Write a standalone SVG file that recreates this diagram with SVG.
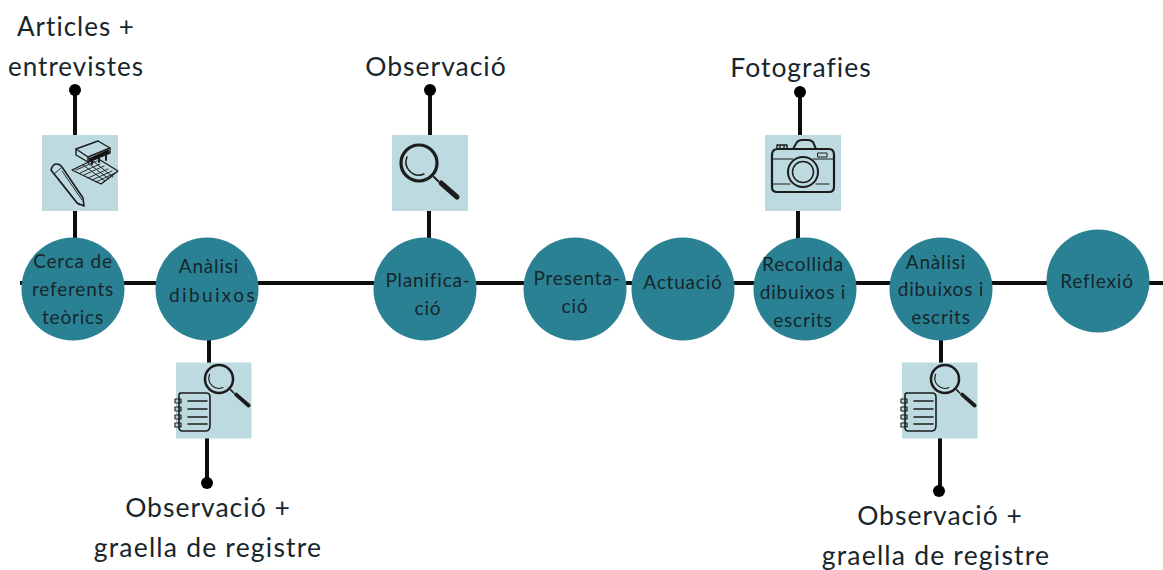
<svg xmlns="http://www.w3.org/2000/svg" width="1163" height="570" viewBox="0 0 1163 570">
<style>
.line{stroke:#0d0d0d;stroke-width:4;fill:none}
.dot{fill:#000}
.c{fill:#2b8194}
.sq{fill:#bcdae0}
text{font-family:"Lato","Noto Sans",sans-serif;text-anchor:middle;fill:#16262c}
.n{font-size:19px;letter-spacing:.8px}
.w{letter-spacing:2.400px}
.l{font-size:26.5px;letter-spacing:1px}
.i{fill:none;stroke:#1c1c1c;stroke-linecap:round;stroke-linejoin:round}
</style>
<defs>
<g id="mag">
<circle cx="0" cy="0" r="18" class="i" stroke-width="3.2"/>
<path d="M-12 -6A13 13 0 0 0 5 11" class="i" stroke-width="1.5"/>
<path d="M15 14L19 18" class="i" stroke-width="2"/>
<path d="M22 20L38 34" class="i" stroke-width="5"/>
</g>
<g id="note">
<path d="M-27 -15H-1Q3 -15 3 -11V17Q3 23 -1 23H-25Q-28 23 -28 19V-13Q-28 -15 -25 -15Z" class="i" stroke-width="1.6"/>
<path d="M-19 -7H0M-19 1H0M-19 9H0M-19 16H0" class="i" stroke-width="1.6"/>
<path d="M-32 -9h6v4h-6zM-32 -1h6v4h-6zM-32 7h6v4h-6zM-32 15h6v4h-6z" class="i" stroke-width="1.2"/>
</g>
</defs>

<g id="connectors">
<path class="line" d="M20 283H1163"/>
<path class="line" d="M75 90V135M75 210V240"/>
<path class="line" d="M430 90V135M429 210V240"/>
<path class="line" d="M800 92V135M798 210V240"/>
<path class="line" d="M209 338V363M207 438V483"/>
<path class="line" d="M941 338V363M940 438V491"/>
<circle class="dot" cx="75" cy="90" r="6"/>
<circle class="dot" cx="430" cy="90" r="6"/>
<circle class="dot" cx="800" cy="92" r="6"/>
<circle class="dot" cx="207" cy="483" r="6"/>
<circle class="dot" cx="939" cy="491" r="6"/>
</g>

<g id="icon-llibres">
<rect class="sq" x="42" y="135" width="76" height="76"/>
<path d="M51 170C53 162 59 163 62 167L83 198L84 206L77 203Z" class="i" stroke-width="1.6"/>
<path d="M54 174L61 168M57 177L79 205M62 171L82 200" class="i" stroke-width=".9"/>
<path d="M72 170L97 158L118 171L101 184Z" class="i" stroke-width="1.3"/>
<path d="M76 170L97 161M80 173L100 164M84 175L104 166M88 178L108 169M92 180L112 171M96 182L115 173M83 165L105 181M88 163L109 179M93 161L113 177" class="i" stroke-width=".9"/>
<path d="M76 149L98 141L110 148L88 157Z" class="i" stroke-width="1.4"/>
<path d="M76 149V155L88 162L110 153V148M88 157V162" class="i" stroke-width="1.4"/>
<path d="M89 160L109 151" stroke="#111" stroke-width="3.5" fill="none"/>
<path d="M92 160V164M99 157V162M106 154V160" class="i" stroke-width="2"/>
</g>
<g id="icon-lupa">
<rect class="sq" x="392" y="135" width="76" height="76"/>
<use href="#mag" x="419" y="163"/>
</g>
<g id="icon-camera">
<rect class="sq" x="765" y="135" width="76" height="76"/>
<g class="i" stroke-width="2">
<path d="M772 155Q772 149 778 149H829Q834 149 834 155V187Q834 192 829 192H777Q772 192 772 187Z" stroke-width="2.2"/>
<path d="M793 149L797 142Q799 140 802 140H808Q811 140 813 142L816 149"/>
<path d="M777 149V145H787V149M780 145V149M784 145V149" stroke-width="1.4"/>
<circle cx="803" cy="172" r="15"/>
<circle cx="803" cy="172" r="10.5" stroke-width="1.5"/>
<path d="M772 159H793M813 159H833M772 184H790M816 184H829" stroke-width="1"/>
<rect x="818" y="153" width="9" height="4" stroke-width="1"/>
</g>
</g>
<g id="icon-graella-1">
<rect class="sq" x="176" y="362.500" width="75.500" height="76"/>
<use href="#mag" transform="translate(219 379) scale(.78)"/>
<use href="#note" x="207" y="408"/>
</g>
<g id="icon-graella-2">
<rect class="sq" x="902" y="362.500" width="75.500" height="76"/>
<use href="#mag" transform="translate(945 379) scale(.78)"/>
<use href="#note" x="933" y="408"/>
</g>

<g id="n1"><circle class="c" cx="73" cy="289" r="51.500"/><text class="n" x="73" y="268">Cerca de</text><text class="n" x="73" y="296">referents</text><text class="n" x="73" y="324">teòrics</text></g>
<g id="n2"><circle class="c" cx="207" cy="289" r="51.500"/><text class="n" x="209" y="273">Anàlisi</text><text class="n w" x="213" y="302">dibuixos</text></g>
<g id="n3"><circle class="c" cx="425" cy="289" r="51.500"/><text class="n" x="428" y="287">Planifica-</text><text class="n" x="428" y="315">ció</text></g>
<g id="n4"><circle class="c" cx="575" cy="289" r="51.500"/><text class="n" x="577" y="285">Presenta-</text><text class="n" x="575" y="313">ció</text></g>
<g id="n5"><circle class="c" cx="683" cy="289" r="51.500"/><text class="n" x="683" y="289">Actuació</text></g>
<g id="n6"><circle class="c" cx="805" cy="289" r="51.500"/><text class="n" x="803" y="271">Recollida</text><text class="n" x="803" y="299">dibuixos i</text><text class="n" x="803" y="327">escrits</text></g>
<g id="n7"><circle class="c" cx="941" cy="289" r="51.500"/><text class="n" x="936" y="269">Anàlisi</text><text class="n" x="941" y="296">dibuixos i</text><text class="n" x="941" y="324">escrits</text></g>
<g id="n8"><circle class="c" cx="1098" cy="281" r="51.500"/><text class="n" x="1097" y="288">Reflexió</text></g>

<g id="labels">
<text class="l" x="76" y="36" style="font-size:26px">Articles +</text>
<text class="l" x="76" y="76" style="font-size:26px">entrevistes</text>
<text class="l" x="436" y="76">Observació</text>
<text class="l" x="801" y="77">Fotografies</text>
<text class="l" x="208" y="517">Observació +</text>
<text class="l" x="208" y="557" style="letter-spacing:1.200px">graella de registre</text>
<text class="l" x="940" y="525">Observació +</text>
<text class="l" x="936" y="565" style="letter-spacing:1.200px">graella de registre</text>
</g>
</svg>
